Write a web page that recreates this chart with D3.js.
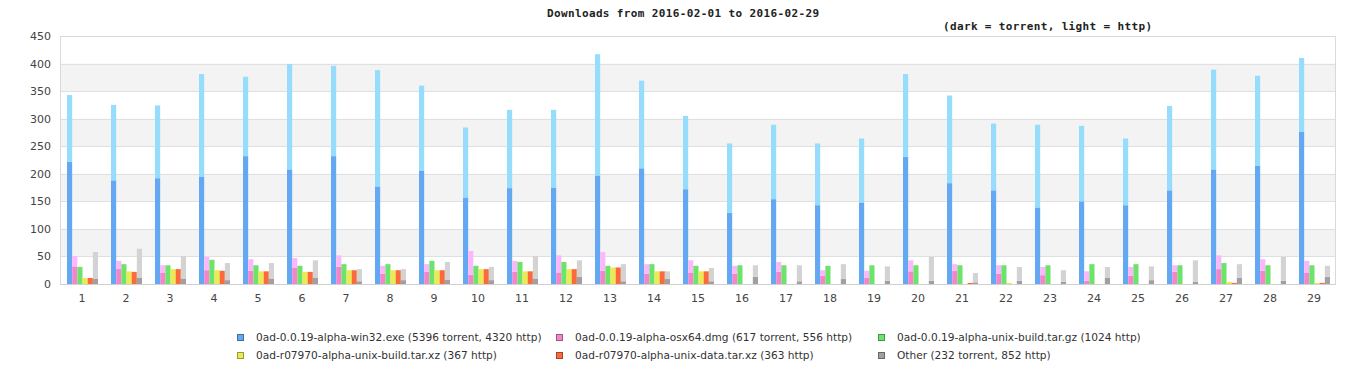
<!DOCTYPE html>
<html><head><meta charset="utf-8">
<script src="https://cdn.jsdelivr.net/npm/d3@7"></script>
<style>body{margin:0;background:#fff}svg{display:block}</style>
</head><body>
<script>
const days = d3.range(1, 30).map(String);
const yTicks = [0,50,100,150,200,250,300,350,400,450];
const seriesNames = ["0ad-0.0.19-alpha-win32.exe (5396 torrent, 4320 http)","0ad-0.0.19-alpha-osx64.dmg (617 torrent, 556 http)","0ad-0.0.19-alpha-unix-build.tar.gz (1024 http)","0ad-r07970-alpha-unix-build.tar.xz (367 http)","0ad-r07970-alpha-unix-data.tar.xz (363 http)","Other (232 torrent, 852 http)"];
const win32Torrent = [222,188,192,195,232,208,232,177,206,157,174,175,197,210,172,129,154,143,148,231,183,170,139,150,143,170,208,215,276];
const win32Http    = [121,137,132,186,144,191,164,211,154,127,142,141,220,159,133,126,135,112,116,150,159,121,150,137,121,153,181,163,134];
const osxTorrent   = [32,28,20,25,24,30,31,19,22,17,22,21,24,19,20,19,22,15,11,23,24,19,16,6,15,22,27,24,20];
const osxHttp      = [19,14,14,24,21,17,21,14,14,43,20,31,34,17,23,14,18,10,13,20,12,15,15,17,16,12,25,21,22];
const gzTorrent    = new Array(29).fill(0);
const gzHttp       = [31,36,34,44,34,33,36,36,42,33,40,40,33,36,33,34,34,33,34,34,34,34,34,36,36,34,38,34,34];
const xzTorrent    = new Array(29).fill(0);
const xzHttp       = [11,23,27,25,23,22,25,25,25,27,23,27,30,23,23,0,0,0,0,0,0,2,0,0,0,0,4,0,2];
const dataTorrent  = new Array(29).fill(0);
const dataHttp     = [11,22,27,24,23,22,25,25,25,27,23,27,30,23,23,0,0,0,0,0,2,0,0,0,0,0,2,0,2];
const otherTorrent = [10,11,10,7,10,11,5,7,8,7,10,13,5,9,5,13,5,9,6,6,3,6,4,11,7,4,11,6,13];
const otherHttp    = [48,53,41,31,28,32,22,20,32,24,41,30,31,14,24,21,29,27,26,43,17,25,21,20,25,39,25,43,20];

const torrentSets = [win32Torrent, osxTorrent, gzTorrent, xzTorrent, dataTorrent, otherTorrent];
const httpSets = [win32Http, osxHttp, gzHttp, xzHttp, dataHttp, otherHttp];
const darkColors = ["#62a8f3","#f385cc","#6ce46c","#e8ec52","#fc6a3c","#a0a0a0"];
const lightColors = ["#95dcfd","#fcb7fc","#6ce46c","#e8ec52","#fc6a3c","#d3d3d3"];

const W = 1366, H = 380;
const svg = d3.select("body").append("svg").attr("width", W).attr("height", H);
const m = {l:60, t:36, r:1336, b:284};
const x = d3.scaleBand().domain(days).range([m.l, m.r]);
const xi = d3.scaleBand().domain(d3.range(6)).range([7, 38]);
const y = d3.scaleLinear().domain([0,450]).range([m.b, m.t]);

// shaded bands
const bandPairs = [[50,100],[150,200],[250,300],[350,400]];
svg.selectAll("rect.band").data(bandPairs).join("rect")
  .attr("x", m.l).attr("width", m.r - m.l)
  .attr("y", d => y(d[1])).attr("height", d => y(d[0]) - y(d[1]))
  .attr("fill", "#f3f3f3");
// grid lines
svg.selectAll("line.grid").data(yTicks).join("line")
  .attr("x1", m.l).attr("x2", m.r)
  .attr("y1", d => Math.round(y(d)) + 0.5).attr("y2", d => Math.round(y(d)) + 0.5)
  .attr("stroke", "#e0e0e0");
// frame
svg.append("rect").attr("x", m.l + 0.5).attr("y", m.t + 0.5)
  .attr("width", m.r - m.l - 1).attr("height", m.b - m.t)
  .attr("fill", "none").attr("stroke", "#d9d9d9");

// bars
const g = svg.append("g");
for (let s = 0; s < 6; s++) {
  days.forEach((d, i) => {
    const t = torrentSets[s][i], h = httpSets[s][i];
    const bx = x(d) + xi(s);
    if (t > 0) g.append("rect").attr("x", bx).attr("width", xi.bandwidth())
      .attr("y", y(t)).attr("height", y(0) - y(t)).attr("fill", darkColors[s]);
    if (h > 0) g.append("rect").attr("x", bx).attr("width", xi.bandwidth())
      .attr("y", y(t + h)).attr("height", y(t) - y(t + h)).attr("fill", lightColors[s]);
  });
}
// bottom axis line
svg.append("line").attr("x1", m.l).attr("x2", m.r).attr("y1", m.b + 0.5).attr("y2", m.b + 0.5).attr("stroke", "#d0d0d0");

// axes
const yAxis = d3.axisLeft(y).tickValues(yTicks).tickSize(0).tickPadding(9);
const ya = svg.append("g").attr("transform", `translate(${m.l},0)`).call(yAxis);
ya.select(".domain").remove();
ya.selectAll("text").attr("font-family", "DejaVu Sans").attr("font-size", 11).attr("fill", "#444");
const xAxis = d3.axisBottom(x).tickSize(0).tickPadding(10);
const xa = svg.append("g").attr("transform", `translate(0,${m.b})`).call(xAxis);
xa.select(".domain").remove();
xa.selectAll("text").attr("font-family", "DejaVu Sans").attr("font-size", 11).attr("fill", "#444");

// titles
svg.append("text").attr("x", 683).attr("y", 17).attr("text-anchor", "middle")
  .attr("font-family", "DejaVu Sans Mono").attr("font-weight", "bold").attr("font-size", 11)
  .attr("textLength", 272).attr("fill", "#222").text("Downloads from 2016-02-01 to 2016-02-29");
svg.append("text").attr("x", 943).attr("y", 30)
  .attr("font-family", "DejaVu Sans Mono").attr("font-weight", "bold").attr("font-size", 11)
  .attr("textLength", 209).attr("fill", "#222").text("(dark = torrent, light = http)");

// legend
const legTextX = [256, 575, 897];
const leg = svg.append("g");
seriesNames.forEach((name, i) => {
  const col = i % 3, row = Math.floor(i / 3);
  const tx = legTextX[col], ly = 334 + row * 18;
  leg.append("rect").attr("x", tx - 18.5).attr("y", ly + 0.5).attr("width", 6).attr("height", 6)
    .attr("fill", darkColors[i]).attr("stroke", d3.color(darkColors[i]).darker(1.2));
  leg.append("text").attr("x", tx).attr("y", ly + 7)
    .attr("font-family", "DejaVu Sans").attr("font-size", 10.6).attr("fill", "#333")
    .text(name);
});
</script>
</body></html>
